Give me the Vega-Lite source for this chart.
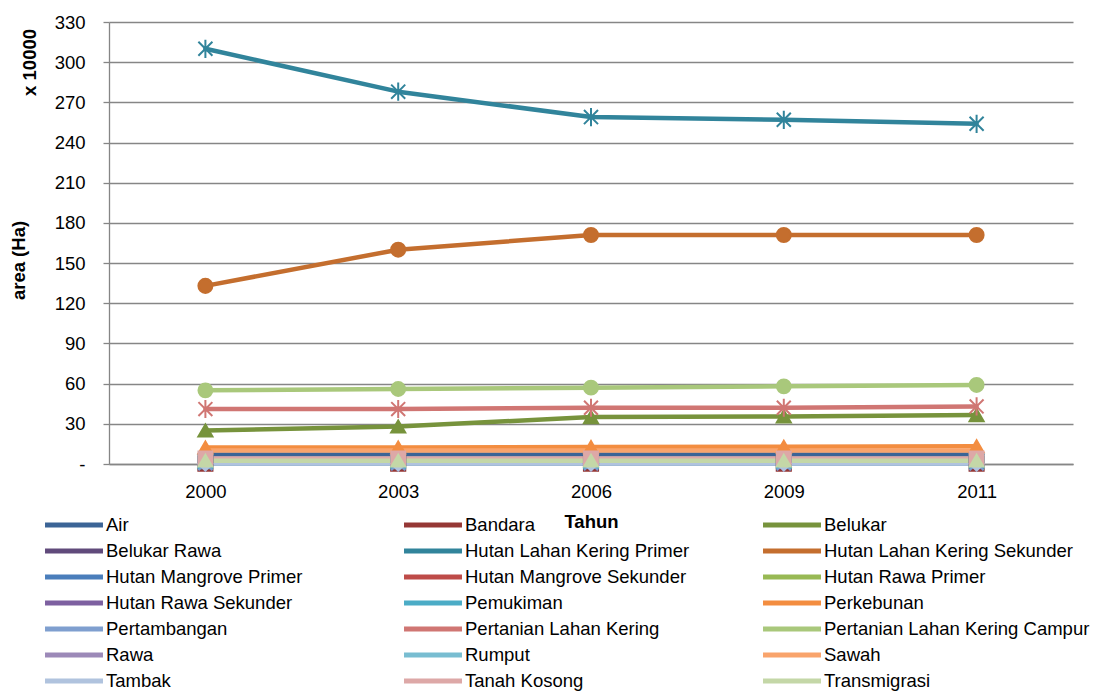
{
  "$schema": "https://vega.github.io/schema/vega-lite/v6.json",
  "width": 964,
  "height": 442,
  "autosize": "none",
  "padding": {"left": 109, "top": 22, "right": 29, "bottom": 227},
  "background": "white",
  "title": {"text": "x 10000", "orient": "left", "anchor": "end", "offset": -30, "dx": -16, "font": "Liberation Sans", "fontSize": 18.5, "fontWeight": "bold", "color": "black"},
  "config": {
    "view": {"stroke": null},
    "font": "Liberation Sans",
    "axis": {"labelFont": "Liberation Sans", "titleFont": "Liberation Sans", "labelColor": "black", "titleColor": "black"}
  },
  "data": {"values": [
    {"series": "Air", "year": "2000", "value": 7}, {"series": "Air", "year": "2003", "value": 7}, {"series": "Air", "year": "2006", "value": 7}, {"series": "Air", "year": "2009", "value": 7}, {"series": "Air", "year": "2011", "value": 7},
    {"series": "Bandara", "year": "2000", "value": 0.3}, {"series": "Bandara", "year": "2003", "value": 0.3}, {"series": "Bandara", "year": "2006", "value": 0.3}, {"series": "Bandara", "year": "2009", "value": 0.3}, {"series": "Bandara", "year": "2011", "value": 0.3},
    {"series": "Belukar", "year": "2000", "value": 25}, {"series": "Belukar", "year": "2003", "value": 28}, {"series": "Belukar", "year": "2006", "value": 35}, {"series": "Belukar", "year": "2009", "value": 35.5}, {"series": "Belukar", "year": "2011", "value": 36.5},
    {"series": "Belukar Rawa", "year": "2000", "value": 0.5}, {"series": "Belukar Rawa", "year": "2003", "value": 0.5}, {"series": "Belukar Rawa", "year": "2006", "value": 0.5}, {"series": "Belukar Rawa", "year": "2009", "value": 0.5}, {"series": "Belukar Rawa", "year": "2011", "value": 0.5},
    {"series": "Hutan Lahan Kering Primer", "year": "2000", "value": 310}, {"series": "Hutan Lahan Kering Primer", "year": "2003", "value": 278}, {"series": "Hutan Lahan Kering Primer", "year": "2006", "value": 259}, {"series": "Hutan Lahan Kering Primer", "year": "2009", "value": 257}, {"series": "Hutan Lahan Kering Primer", "year": "2011", "value": 254},
    {"series": "Hutan Lahan Kering Sekunder", "year": "2000", "value": 133}, {"series": "Hutan Lahan Kering Sekunder", "year": "2003", "value": 160}, {"series": "Hutan Lahan Kering Sekunder", "year": "2006", "value": 171}, {"series": "Hutan Lahan Kering Sekunder", "year": "2009", "value": 171}, {"series": "Hutan Lahan Kering Sekunder", "year": "2011", "value": 171},
    {"series": "Hutan Mangrove Primer", "year": "2000", "value": 0.4}, {"series": "Hutan Mangrove Primer", "year": "2003", "value": 0.4}, {"series": "Hutan Mangrove Primer", "year": "2006", "value": 0.4}, {"series": "Hutan Mangrove Primer", "year": "2009", "value": 0.4}, {"series": "Hutan Mangrove Primer", "year": "2011", "value": 0.4},
    {"series": "Hutan Mangrove Sekunder", "year": "2000", "value": 0.2}, {"series": "Hutan Mangrove Sekunder", "year": "2003", "value": 0.2}, {"series": "Hutan Mangrove Sekunder", "year": "2006", "value": 0.2}, {"series": "Hutan Mangrove Sekunder", "year": "2009", "value": 0.2}, {"series": "Hutan Mangrove Sekunder", "year": "2011", "value": 0.2},
    {"series": "Hutan Rawa Primer", "year": "2000", "value": 0.2}, {"series": "Hutan Rawa Primer", "year": "2003", "value": 0.2}, {"series": "Hutan Rawa Primer", "year": "2006", "value": 0.2}, {"series": "Hutan Rawa Primer", "year": "2009", "value": 0.2}, {"series": "Hutan Rawa Primer", "year": "2011", "value": 0.2},
    {"series": "Hutan Rawa Sekunder", "year": "2000", "value": 0.3}, {"series": "Hutan Rawa Sekunder", "year": "2003", "value": 0.3}, {"series": "Hutan Rawa Sekunder", "year": "2006", "value": 0.3}, {"series": "Hutan Rawa Sekunder", "year": "2009", "value": 0.3}, {"series": "Hutan Rawa Sekunder", "year": "2011", "value": 0.3},
    {"series": "Pemukiman", "year": "2000", "value": 2}, {"series": "Pemukiman", "year": "2003", "value": 2}, {"series": "Pemukiman", "year": "2006", "value": 2.2}, {"series": "Pemukiman", "year": "2009", "value": 2.3}, {"series": "Pemukiman", "year": "2011", "value": 2.5},
    {"series": "Perkebunan", "year": "2000", "value": 12.3}, {"series": "Perkebunan", "year": "2003", "value": 12.3}, {"series": "Perkebunan", "year": "2006", "value": 12.6}, {"series": "Perkebunan", "year": "2009", "value": 12.9}, {"series": "Perkebunan", "year": "2011", "value": 13.2},
    {"series": "Pertambangan", "year": "2000", "value": 0.5}, {"series": "Pertambangan", "year": "2003", "value": 0.5}, {"series": "Pertambangan", "year": "2006", "value": 0.5}, {"series": "Pertambangan", "year": "2009", "value": 0.5}, {"series": "Pertambangan", "year": "2011", "value": 0.5},
    {"series": "Pertanian Lahan Kering", "year": "2000", "value": 41}, {"series": "Pertanian Lahan Kering", "year": "2003", "value": 41}, {"series": "Pertanian Lahan Kering", "year": "2006", "value": 42}, {"series": "Pertanian Lahan Kering", "year": "2009", "value": 42}, {"series": "Pertanian Lahan Kering", "year": "2011", "value": 43},
    {"series": "Pertanian Lahan Kering Campur", "year": "2000", "value": 55}, {"series": "Pertanian Lahan Kering Campur", "year": "2003", "value": 56}, {"series": "Pertanian Lahan Kering Campur", "year": "2006", "value": 57}, {"series": "Pertanian Lahan Kering Campur", "year": "2009", "value": 58}, {"series": "Pertanian Lahan Kering Campur", "year": "2011", "value": 59},
    {"series": "Rawa", "year": "2000", "value": 1.5}, {"series": "Rawa", "year": "2003", "value": 1.5}, {"series": "Rawa", "year": "2006", "value": 1.5}, {"series": "Rawa", "year": "2009", "value": 1.5}, {"series": "Rawa", "year": "2011", "value": 1.5},
    {"series": "Rumput", "year": "2000", "value": 0.5}, {"series": "Rumput", "year": "2003", "value": 0.5}, {"series": "Rumput", "year": "2006", "value": 0.5}, {"series": "Rumput", "year": "2009", "value": 0.5}, {"series": "Rumput", "year": "2011", "value": 0.5},
    {"series": "Sawah", "year": "2000", "value": 10}, {"series": "Sawah", "year": "2003", "value": 10}, {"series": "Sawah", "year": "2006", "value": 10}, {"series": "Sawah", "year": "2009", "value": 10}, {"series": "Sawah", "year": "2011", "value": 10},
    {"series": "Tambak", "year": "2000", "value": 0.3}, {"series": "Tambak", "year": "2003", "value": 0.3}, {"series": "Tambak", "year": "2006", "value": 0.3}, {"series": "Tambak", "year": "2009", "value": 0.3}, {"series": "Tambak", "year": "2011", "value": 0.3},
    {"series": "Tanah Kosong", "year": "2000", "value": 4.2}, {"series": "Tanah Kosong", "year": "2003", "value": 4.2}, {"series": "Tanah Kosong", "year": "2006", "value": 4.2}, {"series": "Tanah Kosong", "year": "2009", "value": 4.2}, {"series": "Tanah Kosong", "year": "2011", "value": 4.2},
    {"series": "Transmigrasi", "year": "2000", "value": 2.5}, {"series": "Transmigrasi", "year": "2003", "value": 2.5}, {"series": "Transmigrasi", "year": "2006", "value": 2.5}, {"series": "Transmigrasi", "year": "2009", "value": 2.5}, {"series": "Transmigrasi", "year": "2011", "value": 2.5}
  ]},
  "encoding": {
    "x": {"field": "year", "type": "ordinal", "sort": null, "scale": {"type": "point", "padding": 0.5},
      "axis": {"title": "Tahun", "labelAngle": 0, "labelFontSize": 18.5, "ticks": false, "tickSize": 0, "labelPadding": 18, "domainColor": "#868686", "domainWidth": 1.3, "grid": false, "titleFontSize": 18.5, "titleFontWeight": "bold", "titlePadding": 12}},
    "y": {"field": "value", "type": "quantitative", "scale": {"domain": [0, 330], "nice": false, "zero": true},
      "axis": {"title": "area (Ha)", "values": [0, 30, 60, 90, 120, 150, 180, 210, 240, 270, 300, 330], "labelExpr": "datum.value == 0 ? '-' : datum.label", "labelFontSize": 18.5, "labelPadding": 18, "tickSize": 6, "tickColor": "#868686", "tickWidth": 1.3, "domainColor": "#868686", "domainWidth": 1.3, "gridColor": "#868686", "gridWidth": 1.3, "titleFontSize": 18.5, "titleFontWeight": "bold", "titlePadding": 26, "titleY": 238}},
    "color": {"field": "series", "type": "nominal",
      "scale": {"domain": ["Air", "Bandara", "Belukar", "Belukar Rawa", "Hutan Lahan Kering Primer", "Hutan Lahan Kering Sekunder", "Hutan Mangrove Primer", "Hutan Mangrove Sekunder", "Hutan Rawa Primer", "Hutan Rawa Sekunder", "Pemukiman", "Perkebunan", "Pertambangan", "Pertanian Lahan Kering", "Pertanian Lahan Kering Campur", "Rawa", "Rumput", "Sawah", "Tambak", "Tanah Kosong", "Transmigrasi"],
        "range": ["#3B6496", "#953735", "#77933C", "#604A7B", "#31849B", "#C46E2E", "#4A7EBB", "#BE4B48", "#98B954", "#7D60A0", "#4BACC6", "#F38D40", "#7F9FCF", "#D07673", "#A9C87B", "#9C89B8", "#78BDD1", "#F9A46C", "#B0C3DE", "#DDA8A7", "#C4D7A7"]},
      "legend": {"title": null, "orient": "none", "legendX": -45, "legendY": 493, "columns": 3, "direction": "horizontal", "gridAlign": "all", "symbolType": "M-4,0L4,0", "symbolSize": 210, "symbolStrokeWidth": 5, "labelFont": "Liberation Sans", "labelFontSize": 18.5, "labelColor": "black", "labelOffset": 22, "labelLimit": 400, "columnPadding": 22, "rowPadding": 6}}
  },
  "layer": [
    {"mark": {"type": "line", "strokeWidth": 4.5, "strokeCap": "round", "strokeJoin": "round"}},
    {"transform": [{"filter": {"not": {"field": "series", "oneOf": ["Hutan Mangrove Sekunder", "Hutan Rawa Primer", "Rumput", "Sawah"]}}}],
      "mark": {"type": "point", "filled": true, "opacity": 1, "strokeWidth": 2},
      "encoding": {
        "shape": {"field": "series", "type": "nominal", "legend": null,
          "scale": {"domain": ["Air", "Bandara", "Belukar", "Belukar Rawa", "Hutan Lahan Kering Primer", "Hutan Lahan Kering Sekunder", "Hutan Mangrove Primer", "Hutan Rawa Sekunder", "Pemukiman", "Perkebunan", "Pertambangan", "Pertanian Lahan Kering", "Pertanian Lahan Kering Campur", "Rawa", "Tambak", "Tanah Kosong", "Transmigrasi"],
            "range": ["diamond", "square", "triangle-up", "M-1,-1L1,1M-1,1L1,-1", "M-1,-1L1,1M-1,1L1,-1M0,-1.3L0,1.3", "circle", "M0,-1L0,1M-1,0L1,0", "diamond", "square", "triangle-up", "M-1,-1L1,1M-1,1L1,-1", "M-1,-1L1,1M-1,1L1,-1M0,-1.3L0,1.3", "circle", "M0,-1L0,1M-1,0L1,0", "diamond", "square", "triangle-up"]}},
        "size": {"field": "series", "type": "nominal", "legend": null,
          "scale": {"domain": ["Air", "Bandara", "Belukar", "Belukar Rawa", "Hutan Lahan Kering Primer", "Hutan Lahan Kering Sekunder", "Hutan Mangrove Primer", "Hutan Rawa Sekunder", "Pemukiman", "Perkebunan", "Pertambangan", "Pertanian Lahan Kering", "Pertanian Lahan Kering Campur", "Rawa", "Tambak", "Tanah Kosong", "Transmigrasi"],
            "range": [200, 190, 260, 170, 200, 400, 170, 200, 190, 260, 170, 200, 400, 170, 200, 190, 260]}},
        "stroke": {"field": "series", "type": "nominal", "legend": null,
          "scale": {"domain": ["Air", "Bandara", "Belukar", "Belukar Rawa", "Hutan Lahan Kering Primer", "Hutan Lahan Kering Sekunder", "Hutan Mangrove Primer", "Hutan Mangrove Sekunder", "Hutan Rawa Primer", "Hutan Rawa Sekunder", "Pemukiman", "Perkebunan", "Pertambangan", "Pertanian Lahan Kering", "Pertanian Lahan Kering Campur", "Rawa", "Rumput", "Sawah", "Tambak", "Tanah Kosong", "Transmigrasi"],
            "range": ["#3B6496", "#953735", "#77933C", "#604A7B", "#31849B", "#C46E2E", "#4A7EBB", "#BE4B48", "#98B954", "#7D60A0", "#4BACC6", "#F38D40", "#7F9FCF", "#D07673", "#A9C87B", "#9C89B8", "#78BDD1", "#F9A46C", "#B0C3DE", "#DDA8A7", "#C4D7A7"]}}
      }}
  ]
}
